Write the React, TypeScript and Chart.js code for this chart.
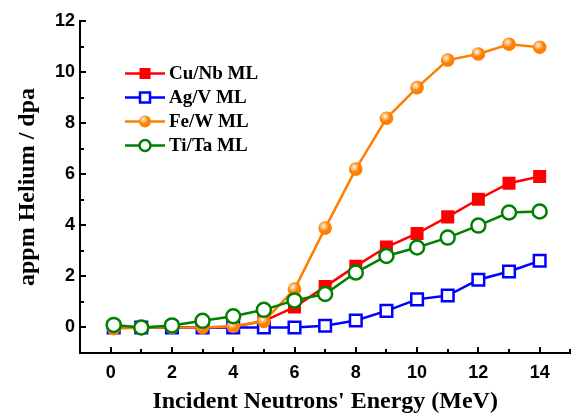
import React, { useEffect, useRef } from 'react';
import { Chart, registerables } from 'chart.js';

Chart.register(...registerables);

const energies = [0.1, 1, 2, 3, 4, 5, 6, 7, 8, 9, 10, 11, 12, 13, 14];
const cuNb = [0, 0, 0, 0, 0.03, 0.25, 0.8, 1.6, 2.4, 3.15, 3.68, 4.33, 5.02, 5.65, 5.91];
const agV = [0, 0, 0, 0, 0, 0, 0, 0.07, 0.27, 0.65, 1.1, 1.25, 1.87, 2.19, 2.61];
const feW = [-0.05, 0, 0, 0, 0.05, 0.24, 1.5, 3.89, 6.2, 8.19, 9.39, 10.47, 10.71, 11.09, 10.97];
const tiTa = [0.1, 0, 0.08, 0.26, 0.44, 0.69, 1.06, 1.31, 2.15, 2.8, 3.13, 3.52, 3.99, 4.5, 4.54];

const seriesNames = ['Cu/Nb ML', 'Ag/V ML', 'Fe/W ML', 'Ti/Ta ML'];
const seriesColors = ['#FF0000', '#0000FF', '#FF8000', '#008000'];

const xTicks = [0, 2, 4, 6, 8, 10, 12, 14];
const yTicks = [0, 2, 4, 6, 8, 10, 12];
const xTitle = "Incident Neutrons' Energy (MeV)";
const yTitle = 'appm Helium / dpa';

function drawHighlight(ctx: CanvasRenderingContext2D, x: number, y: number, r: number) {
  const g = ctx.createRadialGradient(x - 1.5, y - 2, 0, x - 1.5, y - 2, r * 0.75);
  g.addColorStop(0, 'rgba(255,255,255,0.95)');
  g.addColorStop(1, 'rgba(255,255,255,0)');
  ctx.fillStyle = g;
  ctx.beginPath();
  ctx.arc(x, y, r, 0, Math.PI * 2);
  ctx.fill();
}

const highlightPlugin = {
  id: 'highlight',
  afterDatasetDraw(chart: any, args: any) {
    if (args.index !== 2) return;
    const ctx = chart.ctx;
    ctx.save();
    args.meta.data.forEach((p: any) => drawHighlight(ctx, p.x, p.y, 6.8));
    ctx.restore();
  },
};

const axisTicksPlugin = {
  id: 'axisTicks',
  afterDraw(chart: any) {
    const { ctx, scales, chartArea } = chart;
    const x = scales.x;
    const y = scales.y;
    ctx.save();
    ctx.strokeStyle = '#000';
    ctx.lineWidth = 2;
    ctx.beginPath();
    for (let v = -1; v <= 15; v++) {
      const len = v % 2 === 0 ? 6 : 4;
      const px = Math.round(x.getPixelForValue(v));
      ctx.moveTo(px, chartArea.bottom);
      ctx.lineTo(px, chartArea.bottom - len);
    }
    for (let v = -1; v <= 12; v++) {
      const len = v % 2 === 0 ? 6 : 4;
      const py = Math.round(y.getPixelForValue(v));
      ctx.moveTo(chartArea.left, py);
      ctx.lineTo(chartArea.left + len, py);
    }
    ctx.stroke();
    ctx.restore();
  },
};

const legendPlugin = {
  id: 'customLegend',
  afterDraw(chart: any) {
    const ctx = chart.ctx;
    ctx.save();
    seriesNames.forEach((name, i) => {
      const cy = 73.5 + i * 24;
      const color = seriesColors[i];
      ctx.strokeStyle = color;
      ctx.lineWidth = 2.5;
      ctx.beginPath();
      ctx.moveTo(125, cy);
      ctx.lineTo(165, cy);
      ctx.stroke();
      const cx = 145;
      if (i === 0) {
        ctx.fillStyle = color;
        ctx.fillRect(cx - 5.5, cy - 5.5, 11, 11);
      } else if (i === 1) {
        ctx.fillStyle = '#fff';
        ctx.fillRect(cx - 5, cy - 5, 10, 10);
        ctx.strokeRect(cx - 5, cy - 5, 10, 10);
      } else if (i === 2) {
        ctx.fillStyle = color;
        ctx.beginPath();
        ctx.arc(cx, cy, 6, 0, Math.PI * 2);
        ctx.fill();
        drawHighlight(ctx, cx, cy, 6);
      } else {
        ctx.fillStyle = '#fff';
        ctx.beginPath();
        ctx.arc(cx, cy, 5.5, 0, Math.PI * 2);
        ctx.fill();
        ctx.stroke();
      }
      ctx.fillStyle = '#000';
      ctx.font = 'bold 19px "Liberation Serif"';
      ctx.textBaseline = 'middle';
      ctx.textAlign = 'left';
      ctx.fillText(name, 169, cy + 1);
    });
    ctx.restore();
  },
};

export default function App() {
  const ref = useRef<HTMLCanvasElement | null>(null);
  useEffect(() => {
    if (!ref.current) return;
    const mk = (data: number[]) => data.map((v, i) => ({ x: energies[i], y: v }));
    const chart = new Chart(ref.current, {
      type: 'line',
      data: {
        datasets: [
          {
            label: seriesNames[0],
            data: mk(cuNb),
            borderColor: seriesColors[0],
            backgroundColor: seriesColors[0],
            pointBackgroundColor: seriesColors[0],
            pointBorderColor: seriesColors[0],
            pointStyle: 'rect',
            pointRadius: 9.2,
            pointBorderWidth: 0,
            borderWidth: 2.5,
            order: 3,
          },
          {
            label: seriesNames[1],
            data: mk(agV),
            borderColor: seriesColors[1],
            backgroundColor: '#fff',
            pointBackgroundColor: '#fff',
            pointBorderColor: seriesColors[1],
            pointStyle: 'rect',
            pointRadius: 8.2,
            pointBorderWidth: 2.5,
            borderWidth: 2.5,
            order: 2,
          },
          {
            label: seriesNames[2],
            data: mk(feW),
            borderColor: seriesColors[2],
            backgroundColor: seriesColors[2],
            pointBackgroundColor: seriesColors[2],
            pointBorderColor: seriesColors[2],
            pointStyle: 'circle',
            pointRadius: 6.8,
            pointBorderWidth: 0,
            borderWidth: 2.5,
            order: 1,
          },
          {
            label: seriesNames[3],
            data: mk(tiTa),
            borderColor: seriesColors[3],
            backgroundColor: '#fff',
            pointBackgroundColor: '#fff',
            pointBorderColor: seriesColors[3],
            pointStyle: 'circle',
            pointRadius: 7,
            pointBorderWidth: 2.5,
            borderWidth: 2.5,
            order: 0,
          },
        ],
      },
      options: {
        responsive: false,
        animation: false,
        events: [],
        layout: { padding: { left: 0, top: 21, right: 6, bottom: 0 } },
        plugins: { legend: { display: false }, tooltip: { enabled: false } },
        scales: {
          x: {
            type: 'linear',
            min: -1,
            max: 15,
            afterBuildTicks: (s: any) => {
              s.ticks = xTicks.map((v) => ({ value: v }));
            },
            afterFit: (s: any) => {
              s.height = 63;
            },
            grid: { display: false, drawTicks: false },
            border: { display: true, color: '#000', width: 2 },
            ticks: {
              color: '#000',
              padding: 9,
              maxRotation: 0,
              font: { family: '"Liberation Sans", Arial', size: 18, weight: 'bold' },
            },
            title: {
              display: true,
              text: xTitle,
              color: '#000',
              padding: { top: 0, bottom: 0 },
              font: { family: '"Liberation Serif", "Times New Roman"', size: 24, weight: 'bold' },
            },
          },
          y: {
            type: 'linear',
            min: -1,
            max: 12,
            afterBuildTicks: (s: any) => {
              s.ticks = yTicks.map((v) => ({ value: v }));
            },
            afterFit: (s: any) => {
              s.width = 80;
            },
            grid: { display: false, drawTicks: false },
            border: { display: true, color: '#000', width: 2 },
            ticks: {
              color: '#000',
              padding: 5,
              font: { family: '"Liberation Sans", Arial', size: 18, weight: 'bold' },
            },
            title: {
              display: true,
              text: yTitle,
              color: '#000',
              padding: { top: 13, bottom: 0 },
              font: { family: '"Liberation Serif", "Times New Roman"', size: 24, weight: 'bold' },
            },
          },
        },
      } as any,
      plugins: [highlightPlugin, axisTicksPlugin, legendPlugin],
    });
    return () => chart.destroy();
  }, []);
  return (
    <div style={{ position: 'absolute', left: 0, top: 0, width: 581, height: 416, background: '#fff' }}>
      <canvas ref={ref} width={581} height={416} style={{ display: 'block' }} />
    </div>
  );
}
